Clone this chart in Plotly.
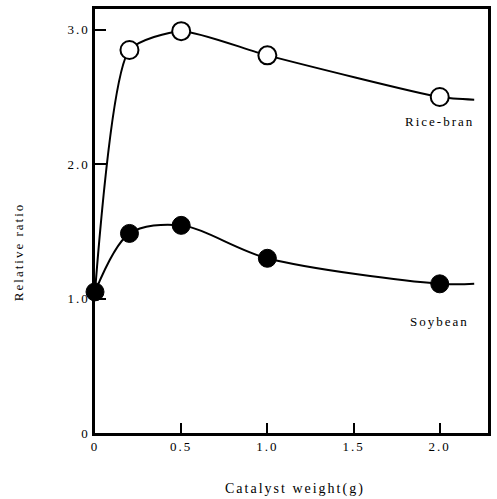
import plotly.graph_objects as go

# Data
rice_x = [0.2, 0.5, 1.0, 2.0]
rice_y = [2.85, 2.99, 2.81, 2.50]
soy_x = [0.0, 0.2, 0.5, 1.0, 2.0]
soy_y = [1.05, 1.485, 1.545, 1.30, 1.11]

# Hand-drawn fitted curves (start point shared at x=0, tail extends past last point)
rice_curve_x = [0.0, 0.2, 0.5, 1.0, 2.0, 2.2]
rice_curve_y = [1.05, 2.85, 2.99, 2.81, 2.50, 2.48]
soy_curve_x = [0.0, 0.2, 0.5, 1.0, 2.0, 2.2]
soy_curve_y = [1.05, 1.485, 1.545, 1.30, 1.11, 1.11]

x_ticks = [0, 0.5, 1.0, 1.5, 2.0]
x_tick_labels = ["0", "0.5", "1.0", "1.5", "2.0"]
y_ticks = [0, 1.0, 2.0, 3.0]
y_tick_labels = ["0", "1.0", "2.0", "3.0"]

X_RANGE = [0, 2.28]
Y_RANGE = [0, 3.155]

FONT = "Liberation Serif, Times New Roman, serif"

fig = go.Figure()
fig.add_trace(go.Scatter(x=rice_curve_x, y=rice_curve_y, mode="lines",
                         line=dict(color="black", width=2, shape="spline", smoothing=0.6),
                         showlegend=False, hoverinfo="skip", cliponaxis=False))
fig.add_trace(go.Scatter(x=soy_curve_x, y=soy_curve_y, mode="lines",
                         line=dict(color="black", width=2, shape="spline", smoothing=0.9),
                         showlegend=False, hoverinfo="skip", cliponaxis=False))
fig.add_trace(go.Scatter(x=rice_x, y=rice_y, mode="markers", name="Rice-bran",
                         marker=dict(symbol="circle", size=18, color="white",
                                     line=dict(color="black", width=2)),
                         showlegend=False, cliponaxis=False))
fig.add_trace(go.Scatter(x=soy_x, y=soy_y, mode="markers", name="Soybean",
                         marker=dict(symbol="circle", size=18, color="black",
                                     line=dict(color="black", width=1)),
                         showlegend=False, cliponaxis=False))

fig.add_annotation(x=2.0, y=2.32, text="Rice-bran", showarrow=False,
                   font=dict(family=FONT, size=13, color="black"), xanchor="center")
fig.add_annotation(x=2.0, y=0.83, text="Soybean", showarrow=False,
                   font=dict(family=FONT, size=13, color="black"), xanchor="center")

# Axis titles
fig.add_annotation(xref="paper", yref="paper", x=0.51, y=-0.131, text="Catalyst weight(g)",
                   showarrow=False, xanchor="center", yanchor="middle",
                   font=dict(family=FONT, size=14, color="black"))
fig.add_annotation(xref="paper", yref="paper", x=-0.194, y=0.426, text="Relative ratio",
                   showarrow=False, textangle=-90, xanchor="center", yanchor="middle",
                   font=dict(family=FONT, size=13, color="black"))

fig.update_layout(
    xaxis=dict(range=X_RANGE, tickmode="array", tickvals=x_ticks, ticktext=x_tick_labels,
               ticks="inside", ticklen=10, tickwidth=2, tickcolor="black",
               showline=True, linecolor="black", linewidth=2.5, mirror=True,
               showgrid=False, zeroline=False, layer="below traces",
               tickfont=dict(family=FONT, size=13, color="black")),
    yaxis=dict(range=Y_RANGE, tickmode="array", tickvals=y_ticks, ticktext=y_tick_labels,
               ticks="inside", ticklen=11, tickwidth=2, tickcolor="black",
               showline=True, linecolor="black", linewidth=2.5, mirror=True,
               showgrid=False, zeroline=False, layer="below traces",
               tickfont=dict(family=FONT, size=13, color="black")),
    width=497, height=499,
    margin=dict(l=95, r=6, t=6, b=66),
    plot_bgcolor="white", paper_bgcolor="white",
    showlegend=False,
)

css_js = ("var s=document.createElement('style');"
          "s.textContent='.main-svg text{letter-spacing:2px;}';"
          "document.head.appendChild(s);")
fig.write_html("out.html", post_script=css_js)
